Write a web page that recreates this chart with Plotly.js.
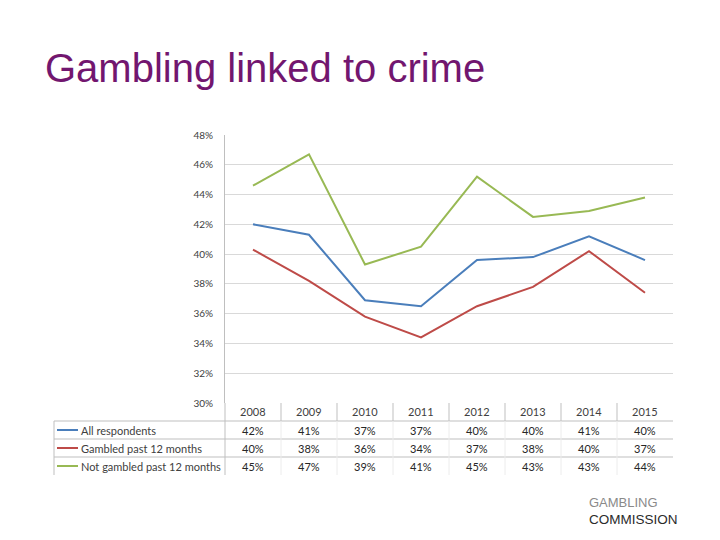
<!DOCTYPE html>
<html>
<head>
<meta charset="utf-8">
<script src="https://cdn.plot.ly/plotly-3.0.1.min.js"></script>
<style>
  body { margin: 0; background: #fff; }
  #chart { width: 720px; height: 540px; }
</style>
</head>
<body>
<div id="chart"></div>
<script>
const years = ['2008', '2009', '2010', '2011', '2012', '2013', '2014', '2015'];

const seriesNames = ['All respondents', 'Gambled past 12 months', 'Not gambled past 12 months'];
const seriesColors = ['#4a7ebb', '#be4b48', '#98b954'];

// line values (percent)
const allRespondents = [42.0, 41.3, 36.9, 36.5, 39.6, 39.8, 41.2, 39.6];
const gambled = [40.3, 38.2, 35.8, 34.4, 36.5, 37.8, 40.2, 37.4];
const notGambled = [44.6, 46.7, 39.3, 40.5, 45.2, 42.5, 42.9, 43.8];

// numbers printed in the data table
const tableAll = ['42%', '41%', '37%', '37%', '40%', '40%', '41%', '40%'];
const tableGambled = ['40%', '38%', '36%', '34%', '37%', '38%', '40%', '37%'];
const tableNotGambled = ['45%', '47%', '39%', '41%', '45%', '43%', '43%', '44%'];

const seriesValues = [allRespondents, gambled, notGambled];
const tableRows = [tableAll, tableGambled, tableNotGambled];

// plot area is 448 x 268 px starting at (225, 135)
const px = x => (x - 225) / 448;
const py = y => (403 - y) / 268;

const chartFont = 'Lato, "Open Sans", sans-serif';
const rowY = [430, 448, 466];

const traces = seriesValues.map((vals, i) => ({
  x: years,
  y: vals,
  type: 'scatter',
  mode: 'lines',
  name: seriesNames[i],
  line: { color: seriesColors[i], width: 2 },
  hoverinfo: 'skip'
}));

const annotations = [];
const shapes = [];

// table header: years (category axis wants the index, '2008' would read as a number)
years.forEach((yr, c) => {
  annotations.push({
    x: c, y: py(411), xref: 'x', yref: 'paper',
    xanchor: 'center', yanchor: 'middle',
    text: yr, showarrow: false,
    font: { family: chartFont, size: 11, color: '#404040' }
  });
});

// table rows with legend keys
tableRows.forEach((row, r) => {
  annotations.push({
    x: px(79), y: py(rowY[r]), xref: 'paper', yref: 'paper',
    xanchor: 'left', yanchor: 'middle',
    text: seriesNames[r], showarrow: false,
    font: { family: chartFont, size: 11, color: '#404040' }
  });
  shapes.push({
    type: 'line', xref: 'paper', yref: 'paper',
    x0: px(57), x1: px(78), y0: py(rowY[r]), y1: py(rowY[r]),
    line: { color: seriesColors[r], width: 2 }
  });
  row.forEach((txt, c) => {
    annotations.push({
      x: c, y: py(rowY[r]), xref: 'x', yref: 'paper',
      xanchor: 'center', yanchor: 'middle',
      text: txt, showarrow: false,
      font: { family: chartFont, size: 11, color: '#262626' }
    });
  });
});

// table grid
[421, 439, 457].forEach(y => {
  shapes.push({
    type: 'line', xref: 'paper', yref: 'paper',
    x0: px(54), x1: 1, y0: py(y), y1: py(y),
    line: { color: '#bfbfbf', width: 1 }
  });
});
shapes.push({
  type: 'line', xref: 'paper', yref: 'paper',
  x0: px(54), x1: px(54), y0: py(421), y1: py(475),
  line: { color: '#bfbfbf', width: 1 }
});
shapes.push({
  type: 'line', xref: 'paper', yref: 'paper',
  x0: 0, x1: 0, y0: 0, y1: py(475),
  line: { color: '#bfbfbf', width: 1 }
});
for (let i = 0; i < years.length - 1; i++) {
  shapes.push({
    type: 'line', xref: 'x', yref: 'paper',
    x0: i + 0.5, x1: i + 0.5, y0: 0, y1: py(421),
    line: { color: '#bfbfbf', width: 1 }
  });
  shapes.push({
    type: 'line', xref: 'x', yref: 'paper',
    x0: i + 0.5, x1: i + 0.5, y0: py(421), y1: py(475),
    line: { color: '#ececec', width: 1 }
  });
}

// logo text
annotations.push({
  x: px(587), y: py(502), xref: 'paper', yref: 'paper',
  xanchor: 'left', yanchor: 'middle',
  text: 'GAMBLING', showarrow: false,
  font: { family: '"Liberation Sans", Arial, sans-serif', size: 13, color: '#8a8a8a' }
});
annotations.push({
  x: px(587), y: py(519), xref: 'paper', yref: 'paper',
  xanchor: 'left', yanchor: 'middle',
  text: 'COMMISSION', showarrow: false,
  font: { family: '"Liberation Sans", Arial, sans-serif', size: 13.5, color: '#2b2b2b' }
});

const layout = {
  width: 720,
  height: 540,
  title: {
    text: 'Gambling linked to crime',
    x: 45 / 720, xref: 'container', xanchor: 'left',
    y: 1 - 68 / 540, yref: 'container', yanchor: 'middle',
    font: { family: '"Liberation Sans", Arial, sans-serif', size: 40, color: '#72166f' }
  },
  xaxis: {
    type: 'category',
    range: [-0.5, 7.5],
    showticklabels: false,
    showgrid: false,
    showline: false,
    zeroline: false,
    ticks: ''
  },
  yaxis: {
    range: [30, 48],
    dtick: 2,
    ticksuffix: '%',
    showline: true,
    linecolor: '#bfbfbf',
    gridcolor: '#d9d9d9',
    zeroline: false,
    ticks: '',
    ticklabelstandoff: 9,
    tickfont: { family: chartFont, size: 10, color: '#404040' }
  },
  margin: { t: 135, l: 225, r: 47, b: 137 },
  showlegend: false,
  hovermode: false,
  paper_bgcolor: '#ffffff',
  plot_bgcolor: '#ffffff',
  annotations: annotations,
  shapes: shapes
};

Plotly.newPlot('chart', traces, layout, { displayModeBar: false, staticPlot: true });
</script>
</body>
</html>
